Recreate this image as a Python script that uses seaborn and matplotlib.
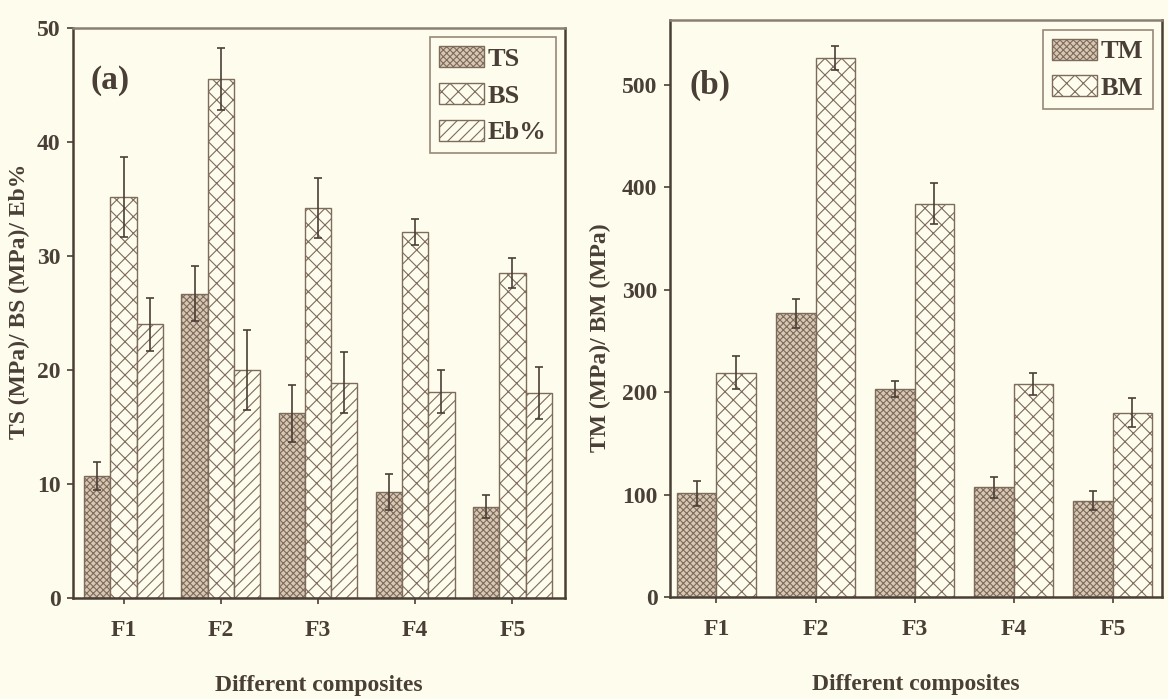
import matplotlib
matplotlib.use("Agg")
import matplotlib.pyplot as plt
import seaborn as sns
import pandas as pd
import numpy as np

composites = ["F1", "F2", "F3", "F4", "F5"]
# panel (a)
ts = [10.7, 26.7, 16.2, 9.3, 8.0]
ts_err = [1.2, 2.4, 2.5, 1.6, 1.0]
bs = [35.2, 45.5, 34.2, 32.1, 28.5]
bs_err = [3.5, 2.7, 2.6, 1.1, 1.3]
eb = [24.0, 20.0, 18.9, 18.1, 18.0]
eb_err = [2.3, 3.5, 2.7, 1.9, 2.3]
# panel (b)
tm = [101, 277, 203, 107, 94]
tm_err = [12, 14, 8, 10, 9]
bm = [219, 526, 384, 208, 180]
bm_err = [16, 12, 20, 11, 14]

sns.set_theme(style="ticks")
bg = "#fefcec"
ink = "#4a3f36"
edge = "#7d6b5c"
plt.rcParams["font.family"] = ["Liberation Serif", "DejaVu Serif"]
plt.rcParams["font.weight"] = "bold"
plt.rcParams["hatch.color"] = edge
plt.rcParams["hatch.linewidth"] = 0.8

fig = plt.figure(figsize=(11.68, 6.99), dpi=100, facecolor=bg)
axA = fig.add_axes([0.0625, 0.1445, 0.4212, 0.8155])
axB = fig.add_axes([0.5736, 0.146, 0.4213, 0.825])

def draw(ax, series, names, errs, hatches, faces, width):
    rows = []
    for name, vals in zip(names, series):
        for c, v in zip(composites, vals):
            rows.append({"comp": c, "series": name, "val": v})
    df = pd.DataFrame(rows)
    sns.barplot(data=df, x="comp", y="val", hue="series", hue_order=names,
                order=composites, ax=ax, errorbar=None, width=width,
                palette=faces, saturation=1, edgecolor=edge, linewidth=1.0,
                legend=True)
    bar_conts = list(ax.containers)
    for i, cont in enumerate(bar_conts):
        for bar, e in zip(cont.patches, errs[i]):
            bar.set_hatch(hatches[i])
            bar.set_facecolor(faces[i])
            bar.set_edgecolor(edge)
            xc = bar.get_x() + bar.get_width() / 2
            ax.errorbar(xc, bar.get_height(), yerr=e, fmt="none",
                        ecolor=ink, elinewidth=1.2, capsize=3, capthick=1.2,
                        zorder=5)
    ax.set_facecolor(bg)
    for s in ax.spines.values():
        s.set_color(ink)
        s.set_linewidth(1.8)
    ax.spines["top"].set_color("#8a7f74")
    ax.tick_params(colors=ink, labelsize=17, length=4, width=1.2)
    ax.tick_params(axis="x", pad=12)
    ax.tick_params(axis="y", pad=5)
    for lab in ax.get_xticklabels() + ax.get_yticklabels():
        lab.set_fontweight("bold")
        lab.set_color(ink)
    ax.set_xlabel("Different composites", fontsize=17, fontweight="bold",
                  color=ink, labelpad=24)
    leg = ax.legend(loc="upper right", fontsize=19, frameon=True,
                    fancybox=False, edgecolor=edge, facecolor=bg,
                    handlelength=1.7, handleheight=0.85, labelspacing=0.45,
                    borderpad=0.35, handletextpad=0.15, borderaxespad=0.35)
    leg.get_frame().set_linewidth(1.2)
    for h, hat, f in zip(leg.legend_handles, hatches, faces):
        h.set_hatch(hat)
        h.set_facecolor(f)
        h.set_edgecolor(edge)
    for t in leg.get_texts():
        t.set_fontweight("bold")
        t.set_color(ink)

draw(axA, [ts, bs, eb], ["TS", "BS", "Eb%"], [ts_err, bs_err, eb_err],
     ["xxxxx", "xx", "///"], ["#d9c7b4", bg, bg], 0.81)
axA.set_xlim(-0.52, 4.54)
axA.set_ylim(0, 50)
axA.set_yticks([0, 10, 20, 30, 40, 50])
axA.set_ylabel("TS (MPa)/ BS (MPa)/ Eb%", fontsize=17, fontweight="bold",
               color=ink)
axA.yaxis.set_label_coords(-0.088, 0.52)
axA.text(0.035, 0.935, "(a)", transform=axA.transAxes, fontsize=24,
         fontweight="bold", color=ink, va="top")

draw(axB, [tm, bm], ["TM", "BM"], [tm_err, bm_err],
     ["xxxxx", "xx"], ["#d9c7b4", bg], 0.8)
axB.set_xlim(-0.47, 4.5)
axB.set_ylim(0, 563)
axB.set_yticks([0, 100, 200, 300, 400, 500])
axB.set_ylabel("TM (MPa)/ BM (MPa)", fontsize=17, fontweight="bold",
               color=ink)
axB.yaxis.set_label_coords(-0.12, 0.45)
axB.text(0.04, 0.915, "(b)", transform=axB.transAxes, fontsize=24,
         fontweight="bold", color=ink, va="top")

fig.savefig("out.png", dpi=100, facecolor=bg)
